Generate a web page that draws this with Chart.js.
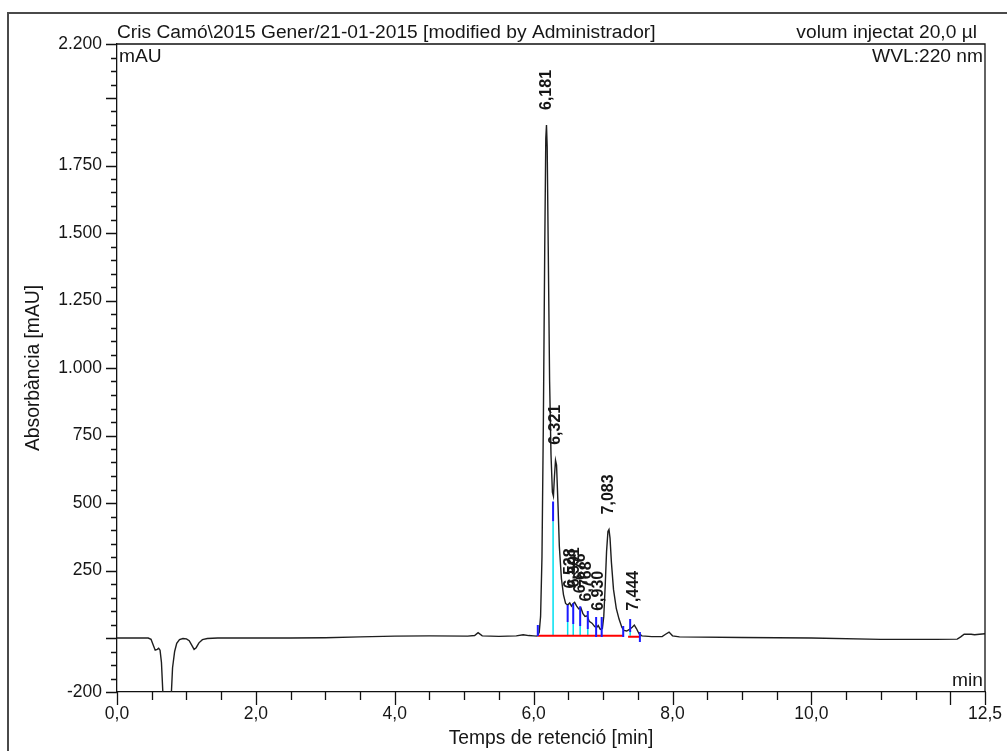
<!DOCTYPE html>
<html>
<head>
<meta charset="utf-8">
<script src="https://cdn.jsdelivr.net/npm/chart.js"></script>
<style>
  html, body { margin: 0; padding: 0; background: #fff; }
  #chromChart { display: block; }
</style>
</head>
<body>
<canvas id="chromChart" width="1007" height="751"></canvas>
<script>
// Cromatograma - valors llegits de la imatge
const tempsMin = [0.00, 0.30, 0.45, 0.49, 0.52, 0.55, 0.58, 0.60, 0.62, 0.64, 0.66, 0.68, 0.76, 0.78, 0.80, 0.83, 0.86, 0.90, 0.95, 1.00,
  1.04, 1.08, 1.11, 1.14, 1.18, 1.23, 1.30, 1.45, 2.00, 2.50, 3.00, 3.50, 4.00, 4.50, 5.05, 5.15, 5.20, 5.26, 5.50, 5.75,
  5.85, 5.93, 6.00, 6.05, 6.08, 6.10, 6.12, 6.14, 6.16, 6.175, 6.185, 6.195, 6.21, 6.23, 6.25, 6.27, 6.285, 6.30, 6.315, 6.33,
  6.35, 6.37, 6.40, 6.43, 6.46, 6.49, 6.52, 6.545, 6.57, 6.59, 6.62, 6.65, 6.68, 6.71, 6.74, 6.77, 6.80, 6.84, 6.88, 6.91,
  6.93, 6.96, 6.99, 7.01, 7.03, 7.05, 7.07, 7.085, 7.10, 7.12, 7.15, 7.19, 7.23, 7.27, 7.30, 7.34, 7.38, 7.42, 7.45, 7.48,
  7.52, 7.56, 7.70, 7.85, 7.90, 7.95, 8.00, 8.10, 9.00, 10.00, 11.00, 11.80, 12.10, 12.15, 12.20, 12.30, 12.35, 12.42, 12.50];
const absorbancia = [0, 0, 0, -5, -25, -45, -42, -38, -45, -90, -200, -320, -320, -220, -110, -50, -20, -6, -2, -3,
  -10, -28, -42, -36, -18, -6, -2, 0, 0, 0, 1, 4, 7, 8, 7, 9, 20, 8, 6, 8,
  12, 9, 8, 7, 20, 80, 300, 800, 1450, 1850, 1900, 1820, 1450, 950, 680, 540, 525, 600, 658, 640,
  500, 340, 220, 160, 128, 122, 130, 118, 128, 132, 118, 108, 112, 90, 80, 82, 62, 55, 42, 40,
  46, 32, 35, 80, 190, 320, 395, 402, 370, 280, 180, 110, 70, 40, 28, 26, 32, 40, 48, 35,
  15, 8, 5, 5, 14, 22, 8, 4, 2, 0, -5, -5, -4, 4, 14, 14, 12, 14, 16];

// Pics identificats
const picEtiquetes = ['6,181', '6,321', '6,528', '6,591', '6,676', '6,768', '6,930', '7,083', '7,444'];
const picTemps = [6.181, 6.321, 6.528, 6.591, 6.676, 6.768, 6.930, 7.083, 7.444];
const picAlcades = [1900, 660, 128, 132, 110, 80, 45, 402, 45];

// Límits d'integració (marques blaves i caigudes cian)
const limitTemps = [6.06, 6.28, 6.49, 6.57, 6.67, 6.78, 6.90, 6.98, 7.29, 7.39, 7.53];
const limitDalt = [48, 506, 122, 129, 118, 100, 78, 78, 44, 70, 22];
const limitBaix = [7, 432, 59, 52, 44, 33, 4, 4, 4, 22, -15];
const ambCaiguda = [false, true, true, true, true, true, false, false, false, true, false];

// Línia base (vermella)
const baseTemps = [6.06, 7.29, null, 7.36, 7.53];
const baseValors = [8, 8, null, 5, 5];

// Eixos
const xMarques = [0, 0.5, 1, 1.5, 2, 2.5, 3, 3.5, 4, 4.5, 5, 5.5, 6, 6.5, 7, 7.5, 8, 8.5, 9, 9.5, 10, 10.5, 11, 11.5, 12, 12.5];
const xEtiquetes = [0, 2, 4, 6, 8, 10, 12.5];
const xMajors = [0, 2, 4, 6, 8, 10, 12, 12.5];
const yMarques = [];
for (let v = -200; v <= 2200; v += 50) yMarques.push(v);
const yEtiquetes = [-200, 250, 500, 750, 1000, 1250, 1500, 1750, 2200];

const TXT = '#161616';
const FONT = 'Liberation Sans, Arial, sans-serif';

function formatY(v) {
  if (Math.abs(v) >= 1000) return Math.floor(v / 1000) + '.' + String(v % 1000).padStart(3, '0');
  return String(v);
}

const corba = tempsMin.map((t, i) => ({ x: t, y: absorbancia[i] }));

const marquesBlaves = [];
const caigudes = [];
limitTemps.forEach((t, i) => {
  marquesBlaves.push({ x: t, y: limitDalt[i] }, { x: t, y: limitBaix[i] }, { x: t, y: null });
  if (ambCaiguda[i]) caigudes.push({ x: t, y: limitBaix[i] }, { x: t, y: 8 }, { x: t, y: null });
});
const liniaBase = baseTemps.map((t, i) => ({ x: t, y: baseValors[i] }));

// Marques dels eixos, vores i textos
const extres = {
  id: 'extres',
  afterDraw(chart) {
    const { ctx, chartArea: a, scales: { x, y } } = chart;
    ctx.save();
    // marc exterior
    ctx.strokeStyle = '#4a4a4a';
    ctx.lineWidth = 2;
    ctx.strokeRect(8, 13, 1200, 900);
    // vora superior i dreta
    ctx.strokeStyle = '#111';
    ctx.lineWidth = 1.3;
    ctx.beginPath();
    ctx.moveTo(a.left, a.top); ctx.lineTo(a.right, a.top); ctx.lineTo(a.right, a.bottom);
    ctx.stroke();
    // marques
    ctx.beginPath();
    yMarques.forEach(v => {
      const py = Math.round(y.getPixelForValue(v)) + 0.5;
      const len = (v % 250 === 0 || v === -200 || v === 2200) ? 11 : 6;
      ctx.moveTo(a.left - len, py); ctx.lineTo(a.left, py);
    });
    xMarques.forEach(v => {
      const px = Math.round(x.getPixelForValue(v)) + 0.5;
      const len = xMajors.includes(v) ? 13 : 8;
      ctx.moveTo(px, a.bottom); ctx.lineTo(px, a.bottom + len);
    });
    ctx.stroke();

    // textos de capçalera
    ctx.fillStyle = TXT;
    ctx.font = '19.2px ' + FONT;
    ctx.textBaseline = 'alphabetic';
    ctx.textAlign = 'left';
    ctx.fillText('Cris Camó\\2015 Gener/21-01-2015 [modified by Administrador]', a.left, 38);
    ctx.fillText('mAU', a.left + 2, 62);
    ctx.textAlign = 'right';
    ctx.fillText('volum injectat 20,0 µl', 977, 38);
    ctx.fillText('WVL:220 nm', a.right - 2, 62);
    ctx.fillText('min', a.right - 2, a.bottom - 6);

    // etiquetes dels pics
    ctx.font = 'bold 16px ' + FONT;
    ctx.textAlign = 'left';
    ctx.textBaseline = 'middle';
    picEtiquetes.forEach((txt, i) => {
      const px = x.getPixelForValue(picTemps[i]);
      const py = y.getPixelForValue(picAlcades[i]) - 15;
      ctx.save();
      ctx.translate(px, py);
      ctx.rotate(-Math.PI / 2);
      ctx.fillText(txt, 0, 0);
      ctx.restore();
    });
    ctx.restore();
  }
};

function dibuixaCromatograma() {
  const ctx = document.getElementById('chromChart').getContext('2d');
  new Chart(ctx, {
    type: 'scatter',
    data: {
      datasets: [
        { data: corba, showLine: true, borderColor: '#1e1e1e', borderWidth: 1.4, pointRadius: 0, tension: 0, order: 4 },
        { data: caigudes, showLine: true, spanGaps: false, borderColor: '#00e0f0', borderWidth: 1.5, pointRadius: 0, order: 3 },
        { data: liniaBase, showLine: true, spanGaps: false, borderColor: '#ff0000', borderWidth: 2, pointRadius: 0, order: 2 },
        { data: marquesBlaves, showLine: true, spanGaps: false, borderColor: '#1a1aff', borderWidth: 2, pointRadius: 0, order: 1 }
      ]
    },
    options: {
      responsive: false,
      animation: false,
      layout: { padding: { left: 0, top: 44, right: 22, bottom: 0 } },
      plugins: { legend: { display: false }, tooltip: { enabled: false } },
      scales: {
        x: {
          type: 'linear', min: 0, max: 12.5,
          afterBuildTicks: s => { s.ticks = xMarques.map(v => ({ value: v })); },
          afterFit: s => { s.height = 59; s.paddingLeft = 0; s.paddingRight = 0; },
          grid: { display: false, drawTicks: false },
          border: { display: true, color: '#111', width: 1.3 },
          ticks: {
            autoSkip: false, maxRotation: 0, padding: 12, color: TXT,
            font: { family: FONT, size: 17.5 },
            callback: v => xEtiquetes.includes(v) ? v.toFixed(1).replace('.', ',') : ''
          },
          title: { display: true, text: 'Temps de retenció [min]', color: TXT,
            font: { family: FONT, size: 19.3 }, padding: { top: 0, bottom: 1 } }
        },
        y: {
          type: 'linear', min: -200, max: 2200,
          afterBuildTicks: s => { s.ticks = yMarques.map(v => ({ value: v })); },
          afterFit: s => { s.width = 117; },
          grid: { display: false, drawTicks: false },
          border: { display: true, color: '#111', width: 1.3 },
          ticks: {
            autoSkip: false, padding: 15, color: TXT,
            font: { family: FONT, size: 17.5 },
            callback: v => yEtiquetes.includes(v) ? formatY(v) : ''
          },
          title: { display: true, text: 'Absorbància [mAU]', color: TXT,
            font: { family: FONT, size: 19.3 }, padding: { top: 22, bottom: 0 } }
        }
      }
    },
    plugins: [extres]
  });
}

document.addEventListener('DOMContentLoaded', dibuixaCromatograma);
</script>
</body>
</html>
